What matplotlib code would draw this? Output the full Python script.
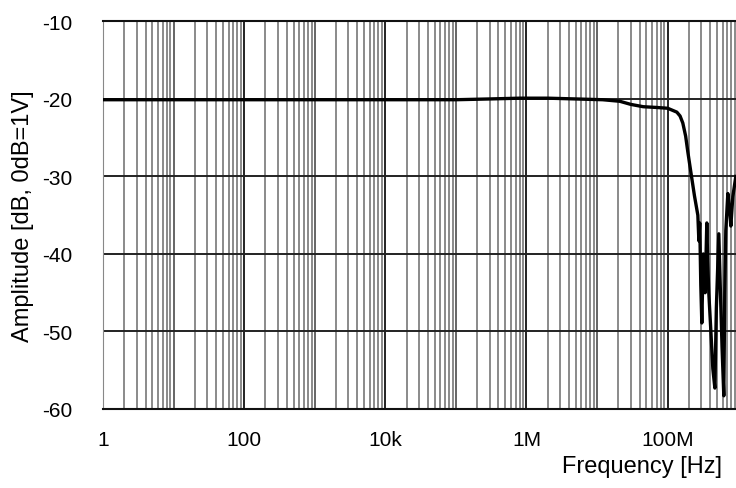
import numpy as np
import matplotlib.pyplot as plt
from matplotlib.ticker import LogLocator, NullFormatter

freq = [1, 10, 100, 1e3, 1e4, 1e5, 3e5, 8e5, 2e6, 5e6, 1.2e7, 2.1e7, 3e7,
        4.5e7, 7e7, 1e8, 1.35e8, 1.5e8, 1.64e8, 1.8e8, 1.93e8, 2.13e8,
        2.4e8, 2.68e8, 2.77e8, 2.85e8, 2.95e8, 3.05e8, 3.2e8, 3.4e8, 3.59e8,
        3.7e8, 3.83e8, 4.1e8, 4.37e8, 4.67e8, 4.9e8, 5.31e8, 5.6e8, 5.9e8,
        6.25e8, 6.45e8, 6.67e8, 7.13e8, 7.5e8, 7.86e8, 8.39e8, 9.25e8]
amp = [-20.1, -20.1, -20.1, -20.1, -20.1, -20.1, -20.0, -19.9, -19.9, -20.0,
       -20.1, -20.3, -20.7, -21.0, -21.1, -21.2, -21.7, -22.2, -23.1, -24.8,
       -26.8, -29.4, -32.5, -35.0, -38.3, -36.0, -44.0, -48.9, -40.0, -45.0,
       -36.0, -41.0, -45.0, -50.0, -54.8, -57.3, -47.0, -37.4, -45.0, -52.0,
       -58.3, -45.0, -37.0, -32.2, -34.0, -36.4, -32.6, -30.0]

xticks = [1, 1e2, 1e4, 1e6, 1e8]
xlabels = ["1", "100", "10k", "1M", "100M"]
yticks = [-10, -20, -30, -40, -50, -60]

plt.rcParams['font.family'] = ['Liberation Sans', 'DejaVu Sans']
plt.rcParams['axes.unicode_minus'] = False

fig = plt.figure(figsize=(7.36, 4.89), dpi=100)
# axis runs off the right edge of the figure (up to 1 GHz)
ax = fig.add_axes([0.140, 0.1616, 0.863, 0.7925])

ax.set_xscale('log')
ax.set_xlim(1, 1e9)
ax.set_ylim(-60, -10)

ax.set_xticks(xticks)
ax.set_xticklabels(xlabels)
ax.xaxis.set_minor_locator(LogLocator(base=10, subs=np.arange(1, 10), numticks=20))
ax.xaxis.set_minor_formatter(NullFormatter())
ax.set_yticks(yticks)

# grey lines at every 1..9 step, darker ones at each decade
ax.grid(True, which='minor', axis='x', color='#777777', lw=1.2)
for d in range(0, 10):
    ax.axvline(10.0 ** d, color='#111111', lw=1.3, zorder=1)
ax.grid(True, which='major', axis='y', color='#222222', lw=1.4)

ax.tick_params(axis='both', which='both', length=0, labelsize=15)
ax.tick_params(axis='x', pad=15)
ax.tick_params(axis='y', pad=22)

for side in ['top', 'bottom']:
    ax.spines[side].set_color('#111111')
    ax.spines[side].set_linewidth(1.5)
ax.spines['left'].set_color('#888888')
ax.spines['right'].set_visible(False)

ax.plot(freq, amp, color='black', lw=2.4, zorder=5)

ax.set_ylabel("Amplitude [dB, 0dB=1V]", fontsize=17, labelpad=6)
fig.text(0.981, 0.045, "Frequency [Hz]", fontsize=17, ha='right', va='center')

fig.savefig("out.png", dpi=100)
